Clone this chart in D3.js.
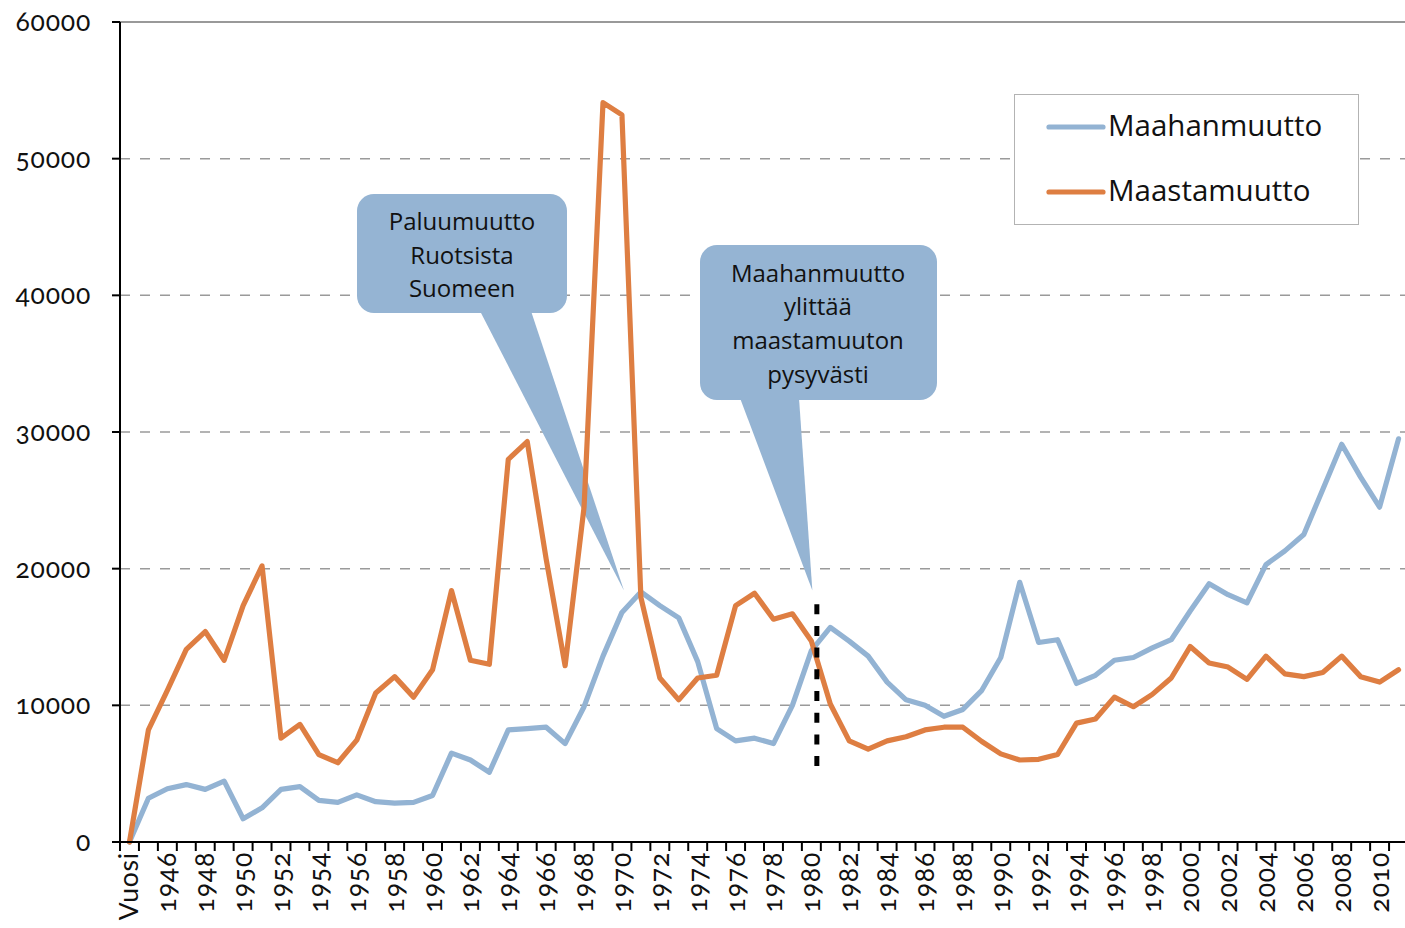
<!DOCTYPE html>
<html>
<head>
<meta charset="utf-8">
<script src="https://cdn.jsdelivr.net/npm/d3@7"></script>
<style>
  html, body { margin: 0; padding: 0; background: #fff; overflow: hidden; }
  svg { display: block; }
  .num { font-family: Lato, "Open Sans", sans-serif; font-variant-numeric: oldstyle-nums; font-feature-settings: "onum" 1; letter-spacing: 0.8px; fill: #111; }
  .txt { font-family: "Open Sans", sans-serif; fill: #111; }
</style>
</head>
<body>
<svg id="chart" width="1405" height="928"></svg>
<script>
// ---- data ----
const categories = ["Vuosi",
  "1945","1946","1947","1948","1949","1950","1951","1952","1953","1954",
  "1955","1956","1957","1958","1959","1960","1961","1962","1963","1964",
  "1965","1966","1967","1968","1969","1970","1971","1972","1973","1974",
  "1975","1976","1977","1978","1979","1980","1981","1982","1983","1984",
  "1985","1986","1987","1988","1989","1990","1991","1992","1993","1994",
  "1995","1996","1997","1998","1999","2000","2001","2002","2003","2004",
  "2005","2006","2007","2008","2009","2010","2011"];

const maahanmuutto = [0,
  3200, 3900, 4200, 3850, 4450, 1700, 2500, 3850, 4050, 3050,
  2900, 3450, 2950, 2850, 2900, 3400, 6500, 6000, 5100, 8200,
  8300, 8400, 7200, 9900, 13600, 16800, 18300, 17300, 16400, 13200,
  8300, 7400, 7600, 7200, 10000, 14000, 15700, 14700, 13600, 11700,
  10400, 10000, 9200, 9700, 11100, 13500, 19000, 14600, 14800, 11600,
  12200, 13300, 13500, 14200, 14800, 16900, 18900, 18100, 17500, 20300,
  21300, 22500, 25800, 29100, 26700, 24500, 29500];

const maastamuutto = [0,
  8200, 11100, 14100, 15400, 13300, 17300, 20200, 7600, 8600, 6400,
  5800, 7450, 10900, 12100, 10600, 12600, 18400, 13300, 13000, 28000,
  29300, 20700, 12900, 24500, 54100, 53200, 17900, 12000, 10400, 12000,
  12200, 17300, 18200, 16300, 16700, 14700, 10100, 7400, 6800, 7400,
  7700, 8200, 8400, 8400, 7350, 6450, 6000, 6050, 6400, 8700,
  9000, 10600, 9900, 10800, 12000, 14300, 13100, 12800, 11900, 13600,
  12300, 12100, 12400, 13600, 12100, 11700, 12600];

const yTicks = [0, 10000, 20000, 30000, 40000, 50000, 60000];
const seriesNames = ["Maahanmuutto", "Maastamuutto"];
const callout1Lines = ["Paluumuutto", "Ruotsista", "Suomeen"];
const callout2Lines = ["Maahanmuutto", "ylittää", "maastamuuton", "pysyvästi"];

// ---- style ----
const BLUE = "#93B3D3";
const ORANGE = "#DE7E42";
const CALLOUT = "#95B4D3";

const svg = d3.select("#chart");
const pLeft = 120, pRight = 1408, pTop = 22, pBottom = 842;

const x = d3.scalePoint().domain(categories).range([pLeft, pRight]).padding(0.5);
const step = x.step();
const y = d3.scaleLinear().domain([0, 60000]).range([pBottom, pTop]);

// gridlines
svg.append("g").selectAll("line")
  .data(yTicks.filter(v => v > 0 && v < 60000))
  .join("line")
  .attr("x1", pLeft).attr("x2", 1405)
  .attr("y1", d => y(d)).attr("y2", d => y(d))
  .attr("stroke", "#9a9a9a").attr("stroke-width", 1.5)
  .attr("stroke-dasharray", "10,10");
svg.append("line")
  .attr("x1", pLeft).attr("x2", 1405).attr("y1", y(60000)).attr("y2", y(60000))
  .attr("stroke", "#777").attr("stroke-width", 1.5);

// callouts
function callout(box, base, tip, lines, cx, baselines) {
  const g = svg.append("g");
  g.append("rect").attr("x", box[0]).attr("y", box[1])
    .attr("width", box[2] - box[0]).attr("height", box[3] - box[1])
    .attr("rx", 17).attr("fill", CALLOUT);
  g.append("path")
    .attr("d", `M${base[0]},${box[3] - 2} L${tip[0]},${tip[1]} L${base[1]},${box[3] - 2} Z`)
    .attr("fill", CALLOUT);
  g.selectAll("text").data(lines).join("text")
    .attr("class", "txt")
    .attr("x", cx).attr("y", (d, i) => baselines[i])
    .attr("text-anchor", "middle").attr("font-size", 24)
    .text(d => d);
}
callout([357, 194, 567, 313], [480, 531], [x("1970") + 2, y(18400)],
  callout1Lines, 462, [230, 263.5, 297]);
callout([700, 245, 937, 400], [740, 799], [x("1980") + 1, y(18400)],
  callout2Lines, 818, [281.5, 315, 349, 382.5]);

// lines
const line = d3.line().x((d, i) => x(categories[i])).y(d => y(d));
[[maahanmuutto, BLUE], [maastamuutto, ORANGE]].forEach(([vals, col]) => {
  svg.append("path").datum(vals)
    .attr("d", line)
    .attr("fill", "none").attr("stroke", col)
    .attr("stroke-width", 5.2)
    .attr("stroke-linejoin", "round").attr("stroke-linecap", "round");
});

// dotted marker line
svg.append("line")
  .attr("x1", x("1980") + 5.5).attr("x2", x("1980") + 5.5)
  .attr("y1", y(17400)).attr("y2", y(5500))
  .attr("stroke", "#000").attr("stroke-width", 5)
  .attr("stroke-dasharray", "10,11.7");

// axes
svg.append("line").attr("x1", pLeft).attr("x2", pLeft).attr("y1", pTop).attr("y2", pBottom + 1)
  .attr("stroke", "#000").attr("stroke-width", 2);
svg.append("line").attr("x1", pLeft - 8).attr("x2", 1405).attr("y1", pBottom).attr("y2", pBottom)
  .attr("stroke", "#000").attr("stroke-width", 2);
// y ticks
svg.append("g").selectAll("line").data(yTicks).join("line")
  .attr("x1", pLeft - 8).attr("x2", pLeft)
  .attr("y1", d => y(d)).attr("y2", d => y(d))
  .attr("stroke", "#000").attr("stroke-width", 2);
svg.append("g").selectAll("text").data(yTicks).join("text")
  .attr("class", "num")
  .attr("x", 91).attr("y", d => y(d) + 9)
  .attr("text-anchor", "end").attr("font-size", 26.5)
  .text(d => d);
// x ticks at category boundaries
svg.append("g").selectAll("line").data(categories).join("line")
  .attr("x1", d => x(d) - step / 2).attr("x2", d => x(d) - step / 2)
  .attr("y1", pBottom).attr("y2", pBottom + 9)
  .attr("stroke", "#000").attr("stroke-width", 2);
// x labels (every other)
svg.append("g").selectAll("text")
  .data(categories.filter((d, i) => i % 2 === 0))
  .join("text")
  .attr("class", "num")
  .attr("transform", d => `translate(${x(d) + 9},${pBottom + 10}) rotate(-90)`)
  .attr("text-anchor", "end").attr("font-size", 26.5)
  .text(d => d);

// legend
const lg = svg.append("g");
lg.append("rect").attr("x", 1014.5).attr("y", 94.5).attr("width", 344).attr("height", 130)
  .attr("fill", "#fff").attr("stroke", "#b3b3b3").attr("stroke-width", 1);
[[seriesNames[0], BLUE, 127, 136], [seriesNames[1], ORANGE, 192, 201]].forEach(([name, col, ly, ty]) => {
  lg.append("line").attr("x1", 1049).attr("x2", 1103).attr("y1", ly).attr("y2", ly)
    .attr("stroke", col).attr("stroke-width", 5.2).attr("stroke-linecap", "round");
  lg.append("text").attr("class", "txt").attr("x", 1108).attr("y", ty)
    .attr("font-size", 29.5).text(name);
});
</script>
</body>
</html>
